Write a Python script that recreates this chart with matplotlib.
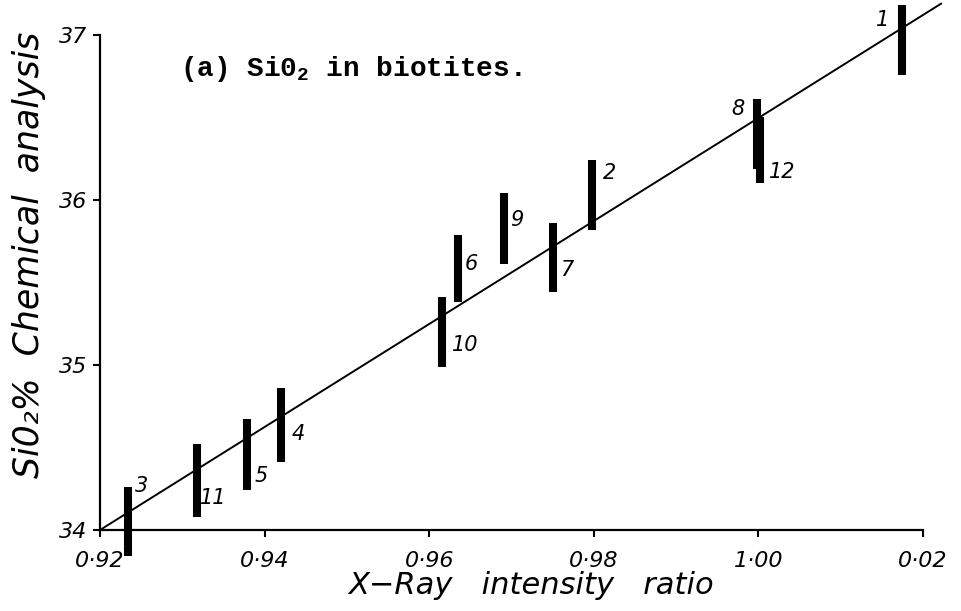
import matplotlib
matplotlib.use("Agg")
import matplotlib.pyplot as plt

# --- data ---------------------------------------------------------------------
sample_ids = ["1", "2", "3", "4", "5", "6", "7", "8", "9", "10", "11", "12"]
xray_ratio = [1.0175, 0.9798, 0.9234, 0.9420, 0.9379, 0.9635,
              0.9750, 0.9998, 0.9691, 0.9616, 0.9318, 1.0002]
sio2_high = [37.18, 36.24, 34.26, 34.86, 34.67, 35.79,
             35.86, 36.61, 36.04, 35.41, 34.52, 36.50]
sio2_low = [36.76, 35.82, 33.84, 34.41, 34.24, 35.38,
            35.44, 36.19, 35.61, 34.99, 34.08, 36.10]

fit_x = [0.92, 1.0222]
fit_y = [34.0, 37.19]

x_ticks = [0.92, 0.94, 0.96, 0.98, 1.00, 1.02]
x_tick_labels = ["0·92", "0·94", "0·96", "0·98", "1·00", "0·02"]
y_ticks = [34, 35, 36, 37]
y_tick_labels = ["34", "35", "36", "37"]

# label offset (pixels) from the middle of each bar
label_offsets = {"1": (-20, 20), "2": (17, 22), "3": (14, 36), "4": (17, -9),
                 "5": (14, -21), "6": (13, 4), "7": (14, -12), "8": (-19, 25),
                 "9": (13, 9), "10": (23, -13), "11": (16, -17), "12": (22, -22)}

plt.rcParams["mathtext.fontset"] = "custom"
plt.rcParams["mathtext.rm"] = "Liberation Mono:bold"

fig = plt.figure(figsize=(9.62, 6.11), dpi=100)
ax = fig.add_axes([100 / 962, 81 / 611, 823 / 962, 495 / 611])

# fitted line (runs a little past the axes, as in the print)
ax.plot(fit_x, fit_y, color="black", lw=1.4, clip_on=False, zorder=2)

# range bars
ax.vlines(xray_ratio, sio2_low, sio2_high, color="black", lw=5.8,
          capstyle="butt", clip_on=False, zorder=3)

for sid, x, lo, hi in zip(sample_ids, xray_ratio, sio2_low, sio2_high):
    dx, dy = label_offsets[sid]
    ax.annotate(sid, xy=(x, (lo + hi) / 2), xytext=(dx, dy),
                textcoords="offset pixels", ha="center", va="center",
                fontsize=15, style="italic", annotation_clip=False)

ax.set_xlim(0.92, 1.02)
ax.set_ylim(34, 37)
ax.set_xticks(x_ticks)
ax.set_xticklabels(x_tick_labels, fontsize=16, style="italic")
ax.set_yticks(y_ticks)
ax.set_yticklabels(y_tick_labels, fontsize=16, style="italic")
ax.tick_params(axis="both", direction="out", length=5, width=1.5)
ax.tick_params(axis="x", pad=10)
ax.tick_params(axis="y", pad=4)

for side in ("top", "right"):
    ax.spines[side].set_visible(False)
for side in ("left", "bottom"):
    ax.spines[side].set_linewidth(1.6)

ax.set_xlabel("X−Ray   intensity   ratio", fontsize=22, style="italic")
ax.xaxis.set_label_coords(0.524, -0.083)
ax.set_ylabel("Si0₂%  Chemical  analysis", fontsize=25, style="italic")
ax.yaxis.set_label_coords(-0.066, 0.556)

ax.text(0.097, 0.917, r"(a) Si0$_\mathrm{2}$ in biotites.", transform=ax.transAxes,
        family="Liberation Mono", weight="bold", fontsize=20,
        ha="left", va="baseline")

fig.savefig("out.png", dpi=100)
